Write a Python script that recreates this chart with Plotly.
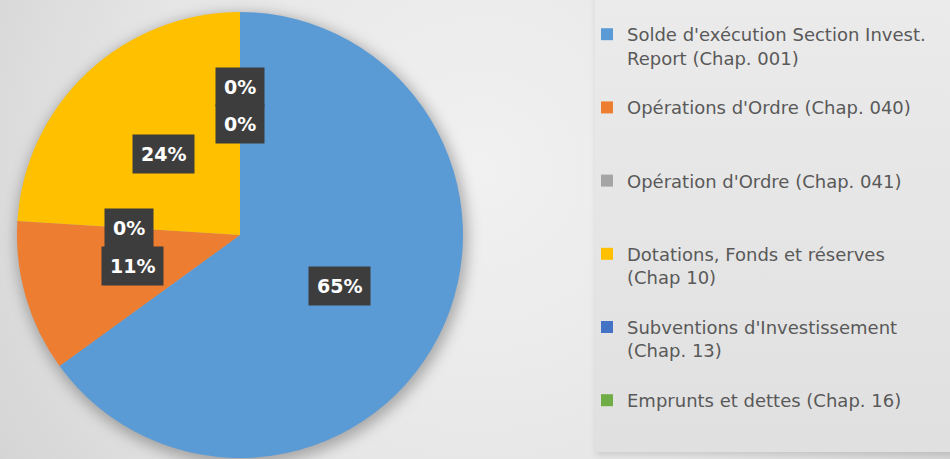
import base64
import math
import plotly.graph_objects as go

# ---- data ----
labels = [
    "Solde d'exécution Section Invest.<br>Report (Chap. 001)",
    "Opérations d'Ordre (Chap. 040)",
    "Opération d'Ordre (Chap. 041)",
    "Dotations, Fonds et réserves<br>(Chap 10)",
    "Subventions d'Investissement<br>(Chap. 13)",
    "Emprunts et dettes (Chap. 16)",
]
values = [65, 11, 0, 24, 0, 0]
colors = ["#5B9BD5", "#ED7D31", "#A5A5A5", "#FFC000", "#4472C4", "#70AD47"]

# legend spacing (blank lines appended after each entry, to mimic the evenly distributed legend)
legend_pad = [1, 2, 2, 1, 1, 0]

W, H = 950, 459
CX, CY, R = 240, 235, 223  # pie centre / radius in pixels

# ---- background (gradient, pie shadow, legend panel) ----
svg = f"""<svg xmlns='http://www.w3.org/2000/svg' width='{W}' height='{H}' viewBox='0 0 {W} {H}'>
<defs>
<radialGradient id='bg' cx='480' cy='170' r='620' gradientUnits='userSpaceOnUse'>
<stop offset='0' stop-color='#f1f1f1'/><stop offset='0.55' stop-color='#e6e6e6'/><stop offset='1' stop-color='#d0d0d0'/>
</radialGradient>
<linearGradient id='lg' x1='0' y1='0' x2='0' y2='1'>
<stop offset='0' stop-color='#ebebeb'/><stop offset='1' stop-color='#e0e0e0'/>
</linearGradient>
<filter id='blur' x='-20%' y='-20%' width='140%' height='140%'><feGaussianBlur stdDeviation='7'/></filter>
<filter id='blur2' x='-20%' y='-20%' width='140%' height='140%'><feGaussianBlur stdDeviation='3'/></filter>
</defs>
<rect x='0' y='0' width='{W}' height='{H}' fill='url(#bg)'/>
<circle cx='{CX+2}' cy='{CY+4}' r='{R+3}' fill='#000' fill-opacity='0.28' filter='url(#blur)'/>
<rect x='596' y='-10' width='370' height='465' fill='#000' fill-opacity='0.12' filter='url(#blur2)'/>
<rect x='595' y='-10' width='370' height='462' fill='url(#lg)'/>
</svg>"""
bg_uri = "data:image/svg+xml;base64," + base64.b64encode(svg.encode("utf-8")).decode()

legend_labels = [l + "<br> " * p for l, p in zip(labels, legend_pad)]

fig = go.Figure(
    go.Pie(
        labels=legend_labels,
        values=values,
        marker=dict(colors=colors, line=dict(width=0)),
        sort=False,
        direction="clockwise",
        rotation=0,
        textinfo="none",
        hovertemplate="%{label}: %{percent}<extra></extra>",
        domain=dict(x=[(CX - R) / W, (CX + R) / W], y=[1 - (CY + R) / H, 1 - (CY - R) / H]),
    )
)

# ---- percentage labels placed at slice mid-angles ----
total = sum(values)
placed = []
annotations = []
cum = 0
for v in values:
    mid = 2 * math.pi * (cum + v / 2) / total
    cum += v
    x = CX + 0.5 * R * math.sin(mid)
    y = CY - 0.5 * R * math.cos(mid)
    while any(abs(x - px) < 55 and abs(y - py) < 37 for px, py in placed):
        y -= 1
    placed.append((x, y))
    annotations.append(
        dict(
            x=x / W, y=1 - y / H, xref="paper", yref="paper",
            text=f"{round(100 * v / total)}%", showarrow=False,
            xanchor="center", yanchor="middle",
            font=dict(family="DejaVu Sans", size=19, color="white", weight="bold"),
            bgcolor="#3d3d3d", borderpad=8,
        )
    )

fig.update_layout(
    width=W, height=H,
    margin=dict(l=0, r=0, t=0, b=0),
    paper_bgcolor="#e2e2e2",
    images=[dict(source=bg_uri, xref="paper", yref="paper", x=0, y=1, sizex=1, sizey=1,
                 xanchor="left", yanchor="top", sizing="stretch", layer="below")],
    annotations=annotations,
    showlegend=True,
    legend=dict(
        x=587 / W, y=1 - 16 / H, xanchor="left", yanchor="top",
        bgcolor="rgba(0,0,0,0)", valign="top",
        font=dict(family="DejaVu Sans", size=18, color="#595959"),
    ),
)

fig.write_html("out.html")
